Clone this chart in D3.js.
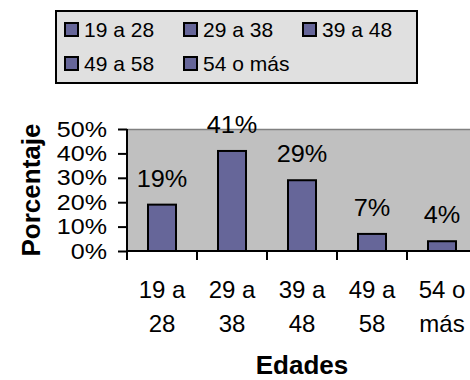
<!DOCTYPE html>
<html>
<head>
<meta charset="utf-8">
<script src="https://cdn.jsdelivr.net/npm/d3@7/dist/d3.min.js"></script>
<style>
  html, body { margin: 0; padding: 0; background: #ffffff; }
  svg { display: block; }
  svg text { font-family: "Liberation Sans", Arial, sans-serif; }
</style>
</head>
<body>
<svg id="chart" width="470" height="380"></svg>
<script>
// Age groups and their share of respondents (%)
const categories = ["19 a 28", "29 a 38", "39 a 48", "49 a 58", "54 o más"];
const values = [19, 41, 29, 7, 4];
const yTicks = [0, 10, 20, 30, 40, 50];
const yTitle = "Porcentaje";
const xTitle = "Edades";

const FONT = "Liberation Sans, Arial, sans-serif";
const barFill = "#666699";
const plotFill = "#c0c0c0";

const svg = d3.select("#chart");

// Widen a text's glyphs horizontally by a factor
function widen(sel, k) {
  sel.each(function () {
    const w = this.getComputedTextLength();
    d3.select(this)
      .attr("textLength", w * k)
      .attr("lengthAdjust", "spacingAndGlyphs");
  });
}

// Plot area (extends slightly past the right edge of the canvas)
const plot = { left: 127, right: 477, top: 129, bottom: 251 };

const x = d3.scaleBand()
  .domain(categories)
  .range([plot.left, plot.right])
  .paddingInner(0.6)
  .paddingOuter(0.3);

const xCat = d3.scaleBand()
  .domain(categories)
  .range([plot.left, plot.right]);

const y = d3.scaleLinear()
  .domain([0, 50])
  .range([plot.bottom, plot.top]);

// Plot background
svg.append("rect")
  .attr("x", plot.left)
  .attr("y", plot.top)
  .attr("width", plot.right - plot.left)
  .attr("height", plot.bottom - plot.top)
  .attr("fill", plotFill);

svg.append("line")
  .attr("x1", plot.left).attr("x2", plot.right)
  .attr("y1", plot.top + 0.5).attr("y2", plot.top + 0.5)
  .attr("stroke", "#808080").attr("stroke-width", 1.5);

// Bars
svg.append("g")
  .selectAll("rect")
  .data(values)
  .join("rect")
  .attr("x", (d, i) => x(categories[i]))
  .attr("y", d => y(d))
  .attr("width", x.bandwidth())
  .attr("height", d => y(0) - y(d))
  .attr("fill", barFill)
  .attr("stroke", "#000")
  .attr("stroke-width", 2);

// Value labels above bars
svg.append("g")
  .selectAll("text")
  .data(values)
  .join("text")
  .attr("x", (d, i) => x(categories[i]) + x.bandwidth() / 2)
  .attr("y", d => y(d) - 18)
  .attr("text-anchor", "middle")
  .attr("font-family", FONT)
  .attr("font-size", 23)
  .attr("fill", "#000")
  .text(d => d + "%")
  .call(widen, 1.1);

// Y axis
const yAxis = d3.axisLeft(y)
  .tickValues(yTicks)
  .tickFormat(d => d + "%")
  .tickSize(9)
  .tickPadding(11);

const gy = svg.append("g")
  .attr("transform", `translate(${plot.left},0)`)
  .call(yAxis)
  .attr("font-family", FONT);
gy.select(".domain").attr("stroke", "#000").attr("stroke-width", 2)
  .attr("d", `M0,${plot.top}V${plot.bottom + 1}`);
gy.selectAll(".tick line").attr("stroke", "#000").attr("stroke-width", 2);
gy.selectAll(".tick text")
  .attr("font-size", 22)
  .attr("font-family", FONT)
  .attr("fill", "#000")
  .call(widen, 1.14);

// X axis: ticks at category boundaries
const gx = svg.append("g");
gx.append("line")
  .attr("x1", plot.left - 1).attr("x2", plot.right)
  .attr("y1", plot.bottom).attr("y2", plot.bottom)
  .attr("stroke", "#000").attr("stroke-width", 2);
gx.selectAll("line.tick")
  .data(categories)
  .join("line")
  .attr("class", "tick")
  .attr("x1", d => xCat(d)).attr("x2", d => xCat(d))
  .attr("y1", plot.bottom).attr("y2", plot.bottom + 9)
  .attr("stroke", "#000").attr("stroke-width", 2);

// Category labels, wrapped onto two lines
gx.selectAll("text.cat")
  .data(categories)
  .join("text")
  .attr("class", "cat")
  .attr("text-anchor", "middle")
  .attr("font-family", FONT)
  .attr("font-size", 24)
  .attr("fill", "#000")
  .each(function (d) {
    const k = d.lastIndexOf(" ");
    const lines = [d.slice(0, k), d.slice(k + 1)];
    const cx = xCat(d) + xCat.bandwidth() / 2;
    d3.select(this).selectAll("tspan")
      .data(lines)
      .join("tspan")
      .attr("x", cx)
      .attr("y", (l, j) => 298 + j * 34)
      .text(l => l);
  });

// Axis titles
svg.append("text")
  .attr("x", (plot.left + plot.right) / 2)
  .attr("y", 374)
  .attr("text-anchor", "middle")
  .attr("font-family", FONT)
  .attr("font-size", 26)
  .attr("font-weight", "bold")
  .text(xTitle);

svg.append("text")
  .attr("transform", `translate(40,${(plot.top + plot.bottom) / 2}) rotate(-90)`)
  .attr("text-anchor", "middle")
  .attr("font-family", FONT)
  .attr("font-size", 26)
  .attr("font-weight", "bold")
  .text(yTitle);

// Legend
const legend = svg.append("g");
legend.append("rect")
  .attr("x", 56).attr("y", 11)
  .attr("width", 361).attr("height", 72)
  .attr("fill", "#e0e0e0")
  .attr("stroke", "#000").attr("stroke-width", 2);

const items = legend.selectAll("g.item")
  .data(categories)
  .join("g")
  .attr("class", "item")
  .attr("transform", (d, i) => `translate(${65 + (i % 3) * 119},${23 + Math.floor(i / 3) * 34})`);

items.append("rect")
  .attr("width", 13).attr("height", 13)
  .attr("fill", barFill)
  .attr("stroke", "#000").attr("stroke-width", 2);

items.append("text")
  .attr("x", 19)
  .attr("y", 13.5)
  .attr("font-family", FONT)
  .attr("font-size", 21)
  .attr("fill", "#000")
  .text(d => d);
</script>
</body>
</html>
